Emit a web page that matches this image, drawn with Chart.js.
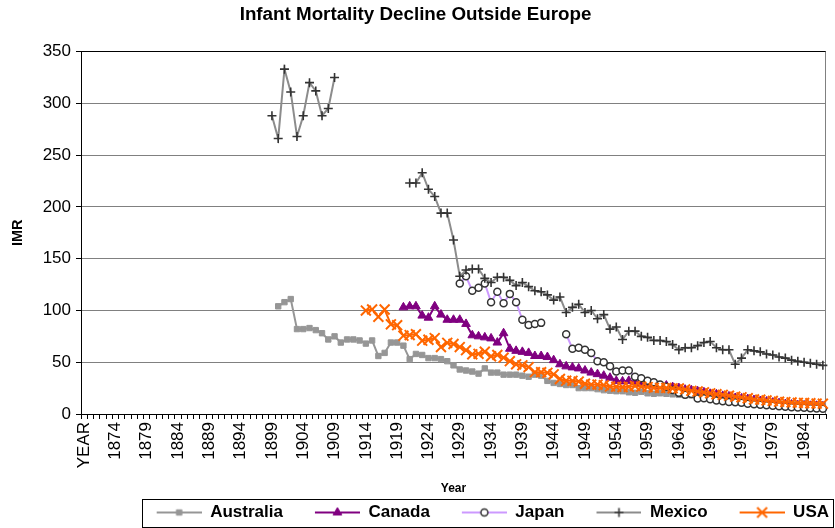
<!DOCTYPE html>
<html>
<head>
<meta charset="utf-8">
<title>Infant Mortality Decline Outside Europe</title>
<script src="https://cdn.jsdelivr.net/npm/chart.js@4.4.0/dist/chart.umd.min.js"></script>
<style>
  body { margin: 0; background: #fff; }
</style>
</head>
<body>
<canvas id="imrChart" width="835" height="528"></canvas>
<script>
// x categories: a header cell followed by one slot per year
const firstYear = 1870;
const lastYear = 1987;
const years = [];
for (let y = firstYear; y <= lastYear; y++) years.push(String(y));
const categories = ['YEAR'].concat(years);

// series values (first slot given by *Start)
const australiaStart = 1900;
const australia = [
  104, 108, 111, 82, 82, 83, 81, 78, 72, 75,
  69, 72, 72, 71, 68, 71, 56, 59, 69, 69,
  66, 53, 58, 57, 54, 54, 53, 51, 47, 43,
  42, 41, 39, 44, 40, 40, 38, 38, 38, 37,
  36, 38, 37, 32, 30, 29, 28, 28, 25, 25,
  25, 24, 23, 22.5, 22, 22, 21, 20.5, 21.5, 20,
  19.5, 20, 19.5, 19, 18.5, 18, 18, 18, 18, 18,
  17, 17, 16.5, 16, 14, 14, 12.5, 12, 11, 11,
  10, 10, 10, 9, 10, 9, 9, 9
];

const canadaStart = 1920;
const canada = [
  103, 104, 104, 95, 93, 104, 96, 91, 91, 91,
  87, 76, 75, 74, 73, 69, 78, 63, 61, 60,
  59, 56, 56, 55, 52, 48, 46, 45, 44, 42,
  40, 38.5, 37, 35, 32, 31.5, 32, 31, 30, 28.5,
  27.5, 27, 27.5, 26, 25, 23.5, 23, 22, 21, 19.5,
  19, 17.5, 17, 15.5, 15, 14.5, 13.5, 12.5, 12, 11,
  10.5, 9.6, 9.1, 8.5, 8.1, 7.9, 7.9, 7.3
];

const japanStart = 1929;
const japan = [
  126, 133, 119, 122, 126, 108, 118, 107, 116, 108,
  91, 86, 87, 88, null, null, null, 77, 63, 64,
  62, 59, 51, 50, 46, 41, 42, 42, 36, 34.5,
  32, 30.7, 28.6, 26.4, 23.2, 20.4, 18.5, 19.3, 14.9, 15.3,
  14.2, 13.1, 12.4, 11.7, 11.3, 10.8, 10, 9.3, 8.9, 8.4,
  7.9, 7.5, 7.1, 6.6, 6.2, 6.0, 5.5, 5.2, 5.0
];

const mexicoStart = 1899;
const mexico = [
  288, 266, 333, 311, 268, 288, 320, 312, 288, 295, 325,
  null, null, null, null, null, null, null, null, null, null, null,
  223, 223, 233, 217, 210, 194, 194, 168, 133,
  139, 140, 140, 131, 127, 132, 132, 129, 124, 127,
  123, 119, 118, 115, 110, 113, 98, 103, 106, 98,
  100, 92, 96, 82, 84, 72, 80, 80, 75, 74,
  71, 71, 70, 67, 62, 64, 64, 66, 69, 70,
  64, 62, 62, 48, 54, 62, 61, 60, 58, 57,
  55, 54, 52, 51, 50, 49, 48, 47
];

const usaStart = 1914;
const usa = [
  99.9, 101.0, 93.8, 100.9, 86.6, 85.8, 75.6, 76.2, 77.1, 70.8,
  71.7, 73.3, 64.6, 68.7, 67.6, 64.6, 61.6, 57.6, 58.1, 60.1,
  55.7, 57.1, 54.4, 51.0, 48.0, 47.0, 45.3, 40.4, 40.4, 39.8,
  38.3, 33.8, 32.2, 32.0, 31.3, 29.2, 28.4, 28.4, 27.8, 26.6,
  26.4, 26.0, 26.3, 27.1, 26.4, 26.0, 25.3, 25.3, 25.2, 24.8,
  24.7, 23.7, 22.4, 21.8, 20.9, 20.0, 19.1, 18.5, 17.7, 16.7,
  16.1, 15.2, 14.1, 13.8, 13.1, 12.6, 11.9, 11.5, 11.2, 10.8,
  10.6, 10.4, 10.1, 10.0
];

const yTicks = [0, 50, 100, 150, 200, 250, 300, 350];

const FONT = 'Arial, "Liberation Sans", sans-serif';
const LEGEND_GAP = 30; // blank space in front of each legend sample

// put a run of values into the full category row
function place(start, values) {
  const out = new Array(categories.length).fill(null);
  values.forEach((v, k) => { out[start - firstYear + 1 + k] = v; });
  return out;
}

const series = [
  { label: 'Australia', data: place(australiaStart, australia), line: '#969696', style: 'rect', radius: 3.8, fill: '#969696', stroke: '#969696', bw: 1, order: 4 },
  { label: 'Canada', data: place(canadaStart, canada), line: '#800080', style: 'triangle', radius: 5, fill: '#800080', stroke: '#800080', bw: 1, order: 3 },
  { label: 'Japan', data: place(japanStart, japan), line: '#CC99FF', style: 'circle', radius: 3.5, fill: '#ffffff', stroke: '#333333', bw: 1.5, order: 2 },
  { label: 'Mexico', data: place(mexicoStart, mexico), line: '#8c8c8c', style: 'cross', radius: 4.5, fill: '#333333', stroke: '#333333', bw: 1.6, order: 1 },
  { label: 'USA', data: place(usaStart, usa), line: '#FF6600', style: 'crossRot', radius: 7, fill: '#FF6600', stroke: '#FF6600', bw: 2, order: 0 }
];

// little line+marker pictures for the legend
function legendSample(s) {
  const c = document.createElement('canvas');
  c.width = LEGEND_GAP + 45; c.height = 18;
  const ctx = c.getContext('2d');
  ctx.strokeStyle = s.line; ctx.lineWidth = 2;
  ctx.beginPath(); ctx.moveTo(LEGEND_GAP, 9); ctx.lineTo(LEGEND_GAP + 45, 9); ctx.stroke();
  ctx.fillStyle = s.fill; ctx.strokeStyle = s.stroke; ctx.lineWidth = s.bw;
  Chart.helpers.drawPoint(ctx, { pointStyle: s.style, radius: s.radius, borderWidth: s.bw, rotation: 0 }, LEGEND_GAP + 22.5, 9);
  return c;
}
const samples = series.map(legendSample);

const frame = {
  id: 'frame',
  beforeDatasetsDraw(chart) {
    const a = chart.chartArea, ctx = chart.ctx;
    ctx.save();
    ctx.strokeStyle = '#808080'; ctx.lineWidth = 1;
    ctx.beginPath(); ctx.moveTo(Math.round(a.right) - 0.5, a.top); ctx.lineTo(Math.round(a.right) - 0.5, a.bottom); ctx.stroke();
    ctx.restore();
  },
  afterDraw(chart) {
    const lg = chart.legend;
    if (!lg || !lg.legendHitBoxes.length) return;
    const hb = lg.legendHitBoxes[0];
    const cy = hb.top + hb.height / 2;
    const x0 = Math.round(hb.left + LEGEND_GAP - 15);
    const ctx = chart.ctx;
    ctx.save();
    ctx.strokeStyle = '#000'; ctx.lineWidth = 1;
    ctx.strokeRect(x0 + 0.5, Math.round(cy - 14) + 0.5, chart.width - 2 - x0, 28);
    ctx.restore();
  }
};

new Chart(document.getElementById('imrChart'), {
  type: 'line',
  data: {
    labels: categories,
    datasets: series.map(s => ({
      label: s.label,
      data: s.data,
      order: s.order,
      borderColor: s.line,
      borderWidth: 2,
      backgroundColor: s.fill,
      pointStyle: s.style,
      pointRadius: s.radius,
      pointBackgroundColor: s.fill,
      pointBorderColor: s.stroke,
      pointBorderWidth: s.bw,
      tension: 0,
      spanGaps: false
    }))
  },
  options: {
    responsive: false,
    animation: false,
    layout: { padding: { left: 0, right: 4, top: 0, bottom: -3 } },
    plugins: {
      title: { display: true, text: 'Infant Mortality Decline Outside Europe', color: '#000', font: { family: FONT, size: 18.8, weight: 'bold' }, padding: { top: 4, bottom: 25 } },
      legend: {
        position: 'bottom', align: 'end',
        labels: {
          usePointStyle: true, pointStyleWidth: LEGEND_GAP + 45, padding: 2, color: '#000',
          font: { family: FONT, size: 17, weight: 'bold' },
          sort: (a, b) => a.datasetIndex - b.datasetIndex,
          generateLabels: chart => Chart.defaults.plugins.legend.labels.generateLabels(chart).map(it => {
            it.pointStyle = samples[it.datasetIndex];
            return it;
          })
        }
      },
      tooltip: { enabled: false }
    },
    scales: {
      x: {
        offset: true,
        grid: { display: true, drawOnChartArea: false, offset: true, tickLength: 5, color: '#000' },
        border: { color: '#000', width: 1 },
        ticks: {
          autoSkip: false, minRotation: 90, maxRotation: 90, padding: 3, color: '#000',
          font: { family: FONT, size: 17 },
          callback: function (v, i) { return i % 5 === 0 ? this.getLabelForValue(v) : ''; }
        },
        title: { display: true, text: 'Year', color: '#000', font: { family: FONT, size: 12, weight: 'bold' }, padding: { top: 0, bottom: 6 } },
        afterFit: s => { s.height = 88; s.paddingLeft = 0; s.paddingRight = 0; }
      },
      y: {
        min: 0, max: 350,
        afterBuildTicks: s => { s.ticks = yTicks.map(v => ({ value: v })); },
        grid: { color: c => (c.tick && c.tick.value === 350 ? '#000' : '#808080'), tickColor: '#000', tickLength: 5 },
        border: { color: '#000', width: 1 },
        ticks: { padding: 5, color: '#000', font: { family: FONT, size: 17 } },
        title: { display: true, text: 'IMR', color: '#000', font: { family: FONT, size: 14.5, weight: 'bold' }, padding: { top: 9, bottom: 0 } },
        afterFit: s => { s.width = 81; }
      }
    }
  },
  plugins: [frame]
});
</script>
</body>
</html>
